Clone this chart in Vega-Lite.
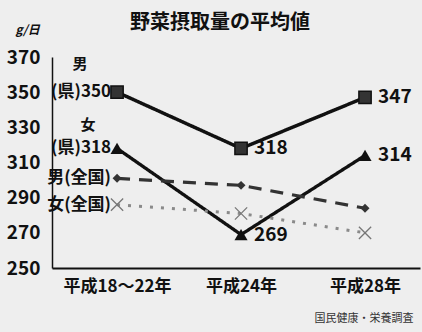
{
  "$schema": "https://vega.github.io/schema/vega-lite/v6.json",
  "width": 368,
  "height": 211,
  "autosize": "none",
  "padding": {"left": 52, "top": 57, "right": 2, "bottom": 64},
  "background": "#eeeeee",
  "config": {
    "font": "Noto Sans CJK JP",
    "view": {"stroke": null},
    "text": {"font": "Noto Sans CJK JP", "fontWeight": "bold", "color": "#111111", "baseline": "middle"}
  },
  "title": {
    "text": "野菜摂取量の平均値",
    "font": "Noto Sans CJK JP",
    "fontSize": 20,
    "fontWeight": "bold",
    "color": "#111111",
    "frame": "group",
    "anchor": "middle",
    "baseline": "middle",
    "dx": -16,
    "dy": 22,
    "offset": 2
  },
  "data": {
    "values": [
      {"period": "平成18〜22年", "series": "男(県)", "value": 350, "left": "(県)350", "tag": "男"},
      {"period": "平成24年", "series": "男(県)", "value": 318},
      {"period": "平成28年", "series": "男(県)", "value": 347},
      {"period": "平成18〜22年", "series": "女(県)", "value": 318, "left": "(県)318", "tag": "女"},
      {"period": "平成24年", "series": "女(県)", "value": 269},
      {"period": "平成28年", "series": "女(県)", "value": 314},
      {"period": "平成18〜22年", "series": "男(全国)", "value": 301, "left": "男(全国)"},
      {"period": "平成24年", "series": "男(全国)", "value": 297},
      {"period": "平成28年", "series": "男(全国)", "value": 284},
      {"period": "平成18〜22年", "series": "女(全国)", "value": 286, "left": "女(全国)"},
      {"period": "平成24年", "series": "女(全国)", "value": 281},
      {"period": "平成28年", "series": "女(全国)", "value": 270}
    ]
  },
  "encoding": {
    "x": {
      "field": "period",
      "type": "ordinal",
      "sort": ["平成18〜22年", "平成24年", "平成28年"],
      "scale": {"type": "point", "padding": 0.484, "align": 0.542},
      "axis": {
        "title": "国民健康・栄養調査",
        "titleFont": "Noto Sans CJK JP",
        "titleFontSize": 11,
        "titleFontWeight": "normal",
        "titleColor": "#333333",
        "titleAnchor": "start",
        "titleAlign": "right",
        "titleBaseline": "middle",
        "titleX": 361,
        "titleY": 50,
        "domainColor": "#111111",
        "domainWidth": 2,
        "ticks": false,
        "grid": false,
        "labelFont": "Noto Sans CJK JP",
        "labelFontSize": 17,
        "labelFontWeight": "bold",
        "labelColor": "#111111",
        "labelPadding": 10,
        "labelAngle": 0
      }
    },
    "y": {
      "field": "value",
      "type": "quantitative",
      "scale": {"domain": [250, 370], "nice": false, "zero": false},
      "axis": {
        "title": "g/日",
        "titleAngle": 0,
        "titleFont": "Noto Sans CJK JP",
        "titleFontSize": 12,
        "titleFontStyle": "italic",
        "titleFontWeight": "bold",
        "titleColor": "#111111",
        "titleAlign": "left",
        "titleBaseline": "middle",
        "titleX": -37,
        "titleY": -28,
        "values": [250, 270, 290, 310, 330, 350, 370],
        "domainColor": "#111111",
        "domainWidth": 1.5,
        "ticks": false,
        "grid": false,
        "labelFont": "Noto Sans CJK JP",
        "labelFontSize": 19,
        "labelFontWeight": "bold",
        "labelColor": "#111111",
        "labelPadding": 12
      }
    }
  },
  "layer": [
    {
      "mark": {"type": "line"},
      "encoding": {
        "detail": {"field": "series"},
        "color": {
          "field": "series",
          "scale": {"domain": ["男(県)", "女(県)", "男(全国)", "女(全国)"], "range": ["#111111", "#111111", "#333333", "#8a8a8a"]},
          "legend": null
        },
        "strokeDash": {
          "field": "series",
          "scale": {"domain": ["男(県)", "女(県)", "男(全国)", "女(全国)"], "range": [[1, 0], [1, 0], [13, 9], [3, 8]]},
          "legend": null
        },
        "strokeWidth": {
          "field": "series",
          "scale": {"domain": ["男(県)", "女(県)", "男(全国)", "女(全国)"], "range": [3.5, 3, 3.5, 1.5]},
          "legend": null
        }
      }
    },
    {
      "transform": [{"filter": "datum.series === '男(県)'"}],
      "mark": {"type": "point", "shape": "square", "size": 150, "filled": true, "fill": "#333333", "stroke": "#111111", "strokeWidth": 1.5, "opacity": 1}
    },
    {
      "transform": [{"filter": "datum.series === '女(県)'"}],
      "mark": {"type": "point", "shape": "triangle-up", "size": 170, "filled": true, "color": "#111111", "opacity": 1}
    },
    {
      "transform": [{"filter": "datum.series === '男(全国)'"}],
      "mark": {"type": "point", "shape": "diamond", "size": 80, "filled": true, "color": "#333333", "opacity": 1}
    },
    {
      "transform": [{"filter": "datum.series === '女(全国)'"}],
      "mark": {"type": "point", "shape": "M-1,-1L1,1M1,-1L-1,1", "size": 150, "filled": false, "stroke": "#777777", "strokeWidth": 1.3, "opacity": 1}
    },
    {
      "transform": [{"filter": "datum.left"}],
      "mark": {"type": "text", "align": "right", "dx": -6},
      "encoding": {
        "text": {"field": "left"},
        "size": {
          "field": "series",
          "scale": {"domain": ["男(県)", "女(県)", "男(全国)", "女(全国)"], "range": [17, 17, 14, 14]},
          "legend": null
        }
      }
    },
    {
      "transform": [{"filter": "datum.tag === '男'"}],
      "mark": {"type": "text", "align": "center", "dx": -37, "dy": -28, "fontSize": 15},
      "encoding": {"text": {"field": "tag"}}
    },
    {
      "transform": [{"filter": "datum.tag === '女'"}],
      "mark": {"type": "text", "align": "center", "dx": -29, "dy": -23, "fontSize": 15},
      "encoding": {"text": {"field": "tag"}}
    },
    {
      "transform": [{"filter": "(datum.series === '男(県)' || datum.series === '女(県)') && datum.period !== '平成18〜22年'"}],
      "mark": {"type": "text", "align": "left", "dx": 13, "fontSize": 19},
      "encoding": {"text": {"field": "value", "type": "quantitative"}}
    }
  ]
}
